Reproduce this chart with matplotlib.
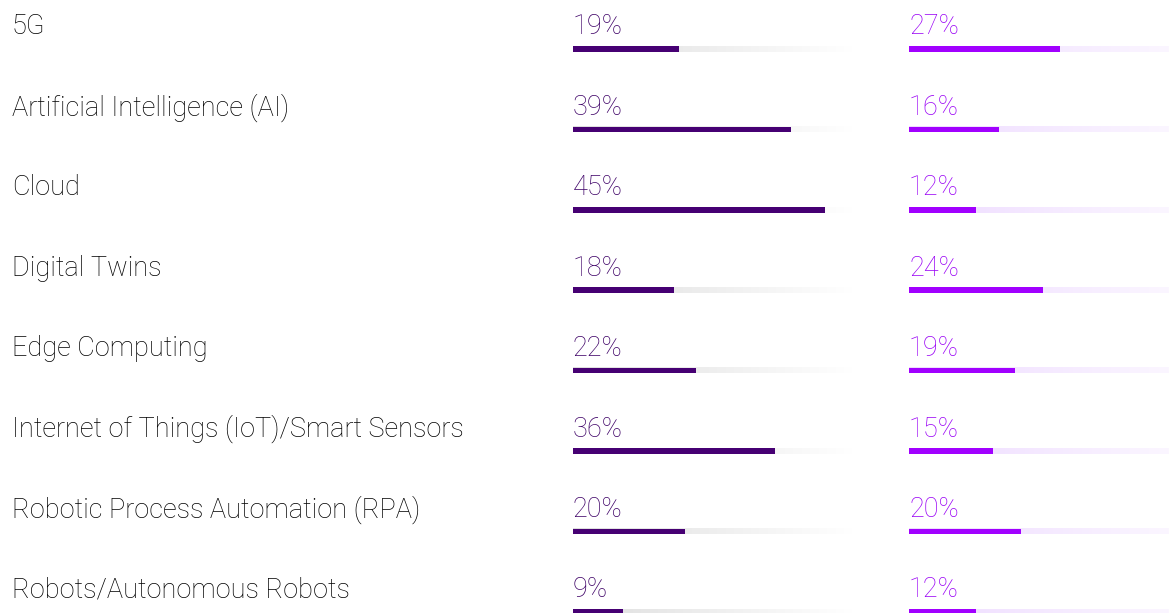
import matplotlib.pyplot as plt
import numpy as np
from matplotlib.colors import LinearSegmentedColormap
from matplotlib.transforms import blended_transform_factory

# Data
technologies = ["5G", "Artificial Intelligence (AI)", "Cloud", "Digital Twins", "Edge Computing",
                "Internet of Things (IoT)/Smart Sensors", "Robotic Process Automation (RPA)",
                "Robots/Autonomous Robots"]
series_a = [19, 39, 45, 18, 22, 36, 20, 9]
series_b = [27, 16, 12, 24, 19, 15, 20, 12]

dark_purple = '#460073'
bright_purple = '#a100ff'

plt.rcParams['font.family'] = ['Roboto', 'DejaVu Sans']

W, H = 1169, 613
fig = plt.figure(figsize=(W / 100, H / 100), dpi=100)

row_top = 49      # pixel y of first bar centre
row_step = 80.4   # pixel spacing between rows
ylim = ((H - row_top) / row_step, -row_top / row_step)
bar_h = 5.5 / row_step
text_off = 22 / row_step
fsize = 19.5

grey_cmap = LinearSegmentedColormap.from_list('g', ['#dedede', '#ffffff'])
purple_cmap = LinearSegmentedColormap.from_list('p', ['#eedbff', '#fbf6ff'])


def column(x0_px, x1_px, xmax, values, color, txt_color, cmap):
    ax = fig.add_axes([x0_px / W, 0, (x1_px - x0_px) / W, 1])
    ax.set_xlim(0, xmax)
    ax.set_ylim(*ylim)
    ax.axis('off')
    grad = np.linspace(0, 1, 256).reshape(1, -1)
    for i, v in enumerate(values):
        ax.imshow(grad, cmap=cmap, aspect='auto',
                  extent=(0, xmax, i + bar_h / 2, i - bar_h / 2), zorder=1)
        ax.text(0, i - text_off, f'{v}%', color=txt_color, fontsize=fsize,
                fontweight='light', ha='left', va='center')
    ax.barh(range(len(values)), values, height=bar_h, color=color, zorder=2)
    ax.set_xlim(0, xmax)
    ax.set_ylim(*ylim)
    return ax


ax1 = column(573, 853, 50, series_a, dark_purple, '#3d0066', grey_cmap)
ax2 = column(909, 1169, 46.4, series_b, bright_purple, '#9900f5', purple_cmap)

trans = blended_transform_factory(fig.transFigure, ax1.transData)
for i, name in enumerate(technologies):
    ax1.text(12 / W, i - text_off, name, transform=trans, fontsize=fsize,
             fontweight='light', color='#000000', ha='left', va='center')

fig.savefig('out.png', dpi=100, facecolor='white')
